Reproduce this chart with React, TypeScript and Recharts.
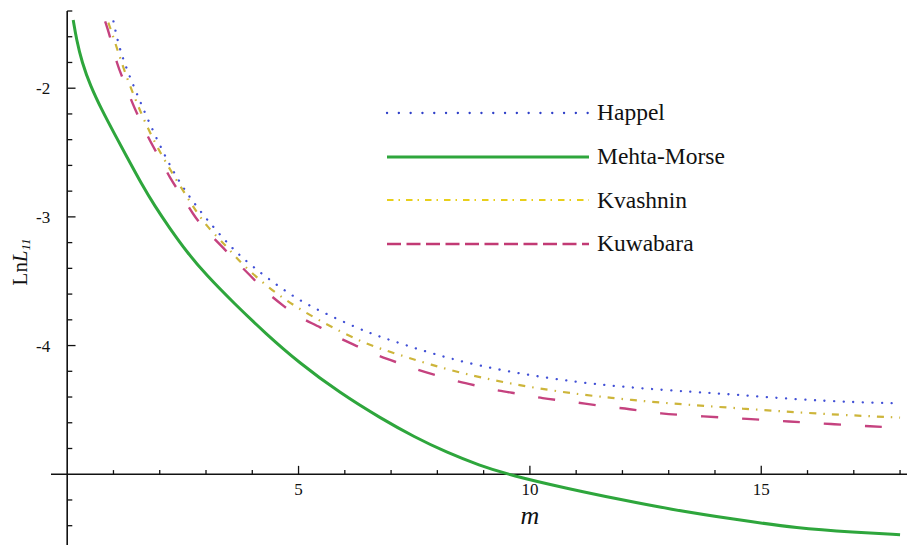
import React from 'react';
import { LineChart, Line, XAxis, YAxis, ReferenceLine, ReferenceDot, Legend } from 'recharts';

// [m, LnL11]
const HAPPEL: [number, number][] = [
  [1.0, -1.48], [1.1, -1.65], [1.25, -1.82], [1.5, -2.04], [1.75, -2.25], [2.1, -2.52],
  [2.45, -2.75], [2.9, -2.97], [3.4, -3.18], [3.75, -3.31], [4.3, -3.47], [5.0, -3.65],
  [5.75, -3.78], [6.5, -3.9], [7.0, -3.96], [8.2, -4.1], [9.6, -4.21], [11.1, -4.29],
  [12.3, -4.33], [13.5, -4.36], [14.4, -4.38], [15.8, -4.42], [17.0, -4.44], [18.0, -4.45],
];

const MEHTA_MORSE: [number, number][] = [
  [0.13, -1.47], [0.2, -1.62], [0.32, -1.8], [0.5, -1.98], [0.75, -2.17], [1.0, -2.34],
  [1.3, -2.54], [1.6, -2.74], [1.9, -2.92], [2.2, -3.08], [2.6, -3.28], [3.0, -3.45],
  [3.6, -3.67], [4.3, -3.91], [5.0, -4.13], [5.9, -4.37], [6.8, -4.57], [7.5, -4.71],
  [8.2, -4.83], [8.9, -4.93], [9.6, -5.01], [10.8, -5.11], [12.0, -5.2], [13.0, -5.27],
  [14.4, -5.35], [15.8, -5.42], [17.0, -5.45], [18.0, -5.47],
];

const KVASHNIN: [number, number][] = [
  [0.89, -1.49], [1.04, -1.65], [1.14, -1.76], [1.3, -1.93], [1.5, -2.11], [1.7, -2.28],
  [1.95, -2.46], [2.2, -2.62], [2.7, -2.91], [3.0, -3.07], [3.45, -3.23], [3.75, -3.36],
  [4.5, -3.6], [5.4, -3.8], [6.4, -3.98], [6.9, -4.04], [7.85, -4.15], [8.9, -4.25],
  [10.4, -4.35], [11.8, -4.41], [13.0, -4.45], [14.6, -4.49], [16.2, -4.53], [18.0, -4.56],
];

const KUWABARA: [number, number][] = [
  [0.82, -1.48], [0.93, -1.6], [1.08, -1.82], [1.2, -1.92], [1.4, -2.11], [1.55, -2.23],
  [1.8, -2.42], [2.0, -2.54], [2.22, -2.7], [2.45, -2.82], [2.72, -2.98], [2.95, -3.09],
  [3.35, -3.23], [3.6, -3.33], [4.0, -3.47], [4.25, -3.57], [4.7, -3.7], [5.0, -3.78],
  [5.5, -3.86], [5.8, -3.93], [6.3, -4.01], [6.65, -4.07], [7.2, -4.14], [7.5, -4.18],
  [8.05, -4.24], [8.45, -4.28], [8.95, -4.32], [9.3, -4.35], [9.85, -4.38], [10.25, -4.41],
  [10.8, -4.43], [11.15, -4.45], [11.75, -4.48], [12.1, -4.49], [12.8, -4.53], [13.75, -4.55],
  [14.7, -4.57], [15.6, -4.59], [16.5, -4.61], [17.45, -4.63], [17.8, -4.635],
];

const X_MAJOR = [5, 10, 15];
const X_MINOR = [1, 2, 3, 4, 6, 7, 8, 9, 11, 12, 13, 14, 16, 17, 18];
const Y_MAJOR = [-2, -3, -4];
const Y_MINOR = [-5.4, -5.2, -4.8, -4.6, -4.4, -4.2, -3.8, -3.6, -3.4, -3.2, -2.8, -2.6, -2.4, -2.2, -1.8, -1.6, -1.4];

const X_DOMAIN: [number, number] = [-0.35, 18.15];
const Y_DOMAIN: [number, number] = [-5.55, -1.4];
const AXIS_Y = -5;

const toRows = (pts: [number, number][]) => pts.map(([m, v]) => ({ m, v }));

const SERIES = [
  { name: 'Happel', data: toRows(HAPPEL), color: '#4150d6', legendColor: '#2f40c8', width: 2.3, dash: '0.1 9.5', legendDash: '0.1 11.7', cap: 'round' as const },
  { name: 'Mehta-Morse', data: toRows(MEHTA_MORSE), color: '#2ea63c', legendColor: '#2ea63c', width: 3, dash: undefined, legendDash: undefined, cap: 'butt' as const },
  { name: 'Kvashnin', data: toRows(KVASHNIN), color: '#cdb53a', legendColor: '#e8cf1a', width: 2.2, dash: '7 7 1.5 7', legendDash: '6.5 5 1.5 6', cap: 'butt' as const },
  { name: 'Kuwabara', data: toRows(KUWABARA), color: '#c5427f', legendColor: '#c23a74', width: 2.4, dash: '17 24', legendDash: '14 5.5', cap: 'butt' as const },
];

const FONT = "'Liberation Serif', 'Times New Roman', Times, 'DejaVu Serif', 'Noto Serif', serif";

const renderLegend = () => (
  <div style={{ fontFamily: FONT }}>
    {SERIES.map((s) => (
      <div key={s.name} style={{ display: 'flex', alignItems: 'center', height: 43.7 }}>
        <svg width={206} height={10}>
          <line x1={2} y1={5} x2={204} y2={5} stroke={s.legendColor} strokeWidth={s.width}
            strokeDasharray={s.legendDash} strokeLinecap={s.cap} />
        </svg>
        <span style={{ marginLeft: 6, fontSize: 23.5, color: '#111', whiteSpace: 'nowrap', fontFamily: FONT }}>{s.name}</span>
      </div>
    ))}
  </div>
);

// label renderers anchored to a ReferenceDot's position
const XTickText = (props: any) => {
  const vb = props.viewBox || {};
  return (
    <text x={vb.x ?? 0} y={(vb.y ?? 0) + 21} textAnchor="middle" fill="#111" fontFamily={FONT} fontSize={17}>
      {props.text}
    </text>
  );
};

const YTickText = (props: any) => {
  const vb = props.viewBox || {};
  return (
    <text x={(vb.x ?? 0) - 17} y={(vb.y ?? 0) + 6} textAnchor="end" fill="#111" fontFamily={FONT} fontSize={17}>
      {props.text}
    </text>
  );
};

const XTitle = (props: any) => {
  const vb = props.viewBox || {};
  return (
    <text x={vb.x ?? 0} y={(vb.y ?? 0) + 50} textAnchor="middle" fill="#111" fontFamily={FONT} fontSize={26} fontStyle="italic">
      m
    </text>
  );
};

const YTitle = (props: any) => {
  const vb = props.viewBox || {};
  const x = (vb.x ?? 0) - 47;
  const y = vb.y ?? 0;
  return (
    <text x={x} y={y} transform={`rotate(-90, ${x}, ${y})`} textAnchor="middle" dominantBaseline="central"
      fill="#111" fontFamily={FONT} fontSize={21}>
      <tspan>Ln</tspan>
      <tspan fontStyle="italic">L</tspan>
      <tspan fontStyle="italic" fontSize={13} dy={5}>11</tspan>
    </text>
  );
};

export default function App() {
  return (
    <div style={{ position: 'absolute', left: 0, top: 0, width: 909, height: 548, background: '#fff', fontFamily: FONT }}>
      <LineChart width={909} height={548} margin={{ top: 11, right: 2, bottom: 3, left: 51 }} style={{ fontFamily: FONT }}>
        <XAxis type="number" dataKey="m" domain={X_DOMAIN} allowDataOverflow hide />
        <YAxis type="number" dataKey="v" domain={Y_DOMAIN} allowDataOverflow hide />

        {/* axes crossing at (0, -5) */}
        <ReferenceLine segment={[{ x: X_DOMAIN[0], y: AXIS_Y }, { x: X_DOMAIN[1], y: AXIS_Y }]} stroke="#111" strokeWidth={1.6} ifOverflow="visible" />
        <ReferenceLine segment={[{ x: 0, y: Y_DOMAIN[0] }, { x: 0, y: Y_DOMAIN[1] }]} stroke="#111" strokeWidth={1.6} ifOverflow="visible" />

        {X_MINOR.map((t) => (
          <ReferenceLine key={`xm${t}`} segment={[{ x: t, y: AXIS_Y }, { x: t, y: AXIS_Y + 0.032 }]} stroke="#111" strokeWidth={1.3} ifOverflow="visible" />
        ))}
        {X_MAJOR.map((t) => (
          <ReferenceLine key={`xM${t}`} segment={[{ x: t, y: AXIS_Y }, { x: t, y: AXIS_Y + 0.065 }]} stroke="#111" strokeWidth={1.3} ifOverflow="visible" />
        ))}
        {Y_MINOR.map((t) => (
          <ReferenceLine key={`ym${t}`} segment={[{ x: 0, y: t }, { x: 0.11, y: t }]} stroke="#111" strokeWidth={1.3} ifOverflow="visible" />
        ))}
        {Y_MAJOR.map((t) => (
          <ReferenceLine key={`yM${t}`} segment={[{ x: 0, y: t }, { x: 0.18, y: t }]} stroke="#111" strokeWidth={1.3} ifOverflow="visible" />
        ))}

        {X_MAJOR.map((t) => (
          <ReferenceDot key={`xl${t}`} x={t} y={AXIS_Y} r={0} fill="none" stroke="none" ifOverflow="visible"
            label={<XTickText text={String(t)} />} />
        ))}
        {Y_MAJOR.map((t) => (
          <ReferenceDot key={`yl${t}`} x={0} y={t} r={0} fill="none" stroke="none" ifOverflow="visible"
            label={<YTickText text={String(t)} />} />
        ))}

        <ReferenceDot x={10} y={AXIS_Y} r={0} fill="none" stroke="none" ifOverflow="visible" label={<XTitle />} />
        <ReferenceDot x={0} y={-3.35} r={0} fill="none" stroke="none" ifOverflow="visible" label={<YTitle />} />

        {SERIES.map((s) => (
          <Line key={s.name} data={s.data} dataKey="v" name={s.name} type="basis" stroke={s.color}
            strokeWidth={s.width} strokeDasharray={s.dash} strokeLinecap={s.cap} dot={false}
            activeDot={false} isAnimationActive={false} />
        ))}

        <Legend layout="horizontal" verticalAlign="middle" align="center" content={renderLegend}
          wrapperStyle={{ position: 'absolute', left: 385, top: 91, width: 420 }} />
      </LineChart>
    </div>
  );
}
